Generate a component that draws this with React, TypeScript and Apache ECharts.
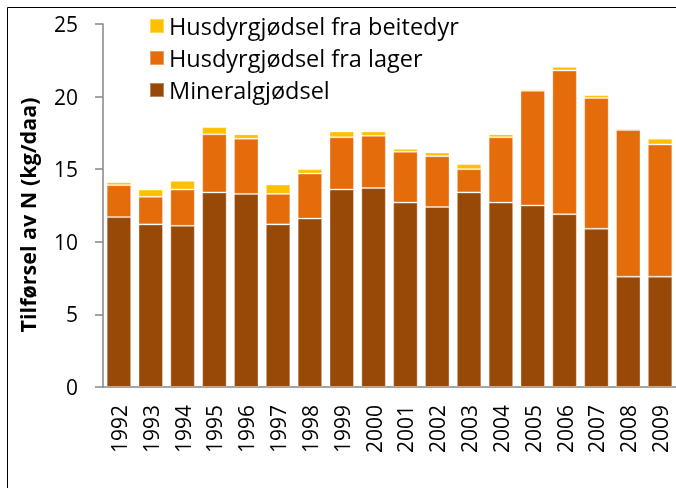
import React, { useEffect, useRef } from "react";
import * as echarts from "echarts";

const years = ["1992","1993","1994","1995","1996","1997","1998","1999","2000","2001","2002","2003","2004","2005","2006","2007","2008","2009"];
const mineral = [11.7,11.2,11.1,13.4,13.3,11.2,11.6,13.6,13.7,12.7,12.4,13.4,12.7,12.5,11.9,10.9,7.6,7.6];
const lager = [2.2,1.9,2.5,4.0,3.8,2.1,3.1,3.6,3.6,3.5,3.5,1.6,4.5,7.9,9.9,9.0,10.1,9.1];
const beite = [0.2,0.5,0.6,0.5,0.3,0.65,0.3,0.4,0.3,0.2,0.25,0.35,0.2,0.1,0.25,0.2,0.1,0.4];
const seriesNames = ["Mineralgjødsel","Husdyrgjødsel fra lager","Husdyrgjødsel fra beitedyr"];
const yTitle = "Tilførsel av N (kg/daa)";

const FONT = "'Open Sans', 'Noto Sans', sans-serif";

export default function App() {
  const ref = useRef<HTMLDivElement>(null);
  useEffect(() => {
    if (!ref.current) return;
    const chart = echarts.init(ref.current, undefined, { renderer: "svg" });
    const border = { borderColor: "rgba(255,255,255,0.35)", borderWidth: 1 };
    chart.setOption({
      animation: false,
      textStyle: { fontFamily: FONT },
      grid: { left: 96, top: 17, width: 576, height: 363, containLabel: false },
      legend: {
        orient: "vertical",
        left: 137,
        top: 2,
        itemWidth: 14,
        itemHeight: 14,
        itemGap: 8,
        data: [seriesNames[2], seriesNames[1], seriesNames[0]],
        textStyle: { fontSize: 23.5, color: "#000", fontFamily: FONT },
        icon: "rect",
      },
      xAxis: {
        type: "category",
        data: years,
        axisLine: { lineStyle: { color: "#868686", width: 1.5 } },
        axisTick: { length: 8, lineStyle: { color: "#868686", width: 1.5 } },
        axisLabel: { rotate: 90, margin: 18, fontSize: 21, color: "#000", fontFamily: FONT },
      },
      yAxis: {
        type: "value",
        min: 0,
        max: 25,
        interval: 5,
        axisLine: { show: true, lineStyle: { color: "#868686", width: 1.5 } },
        axisTick: { show: true, length: 8, lineStyle: { color: "#868686", width: 1.5 } },
        splitLine: { show: false },
        axisLabel: { margin: 25, fontSize: 21, color: "#000", fontFamily: FONT },
      },
      graphic: [
        {
          type: "rect",
          shape: { x: 0.5, y: 0.5, width: 760, height: 560 },
          style: { fill: "none", stroke: "#000", lineWidth: 1 },
          silent: true,
        },
        {
          type: "text",
          x: 20,
          y: 208,
          rotation: Math.PI / 2,
          style: {
            text: yTitle,
            fontSize: 21.5,
            fontWeight: "bold",
            fontFamily: FONT,
            fill: "#000",
            align: "center",
            verticalAlign: "middle",
          },
        },
      ],
      series: [
        { name: seriesNames[0], type: "bar", stack: "n", data: mineral, barCategoryGap: "23%", itemStyle: { color: "#984807", ...border } },
        { name: seriesNames[1], type: "bar", stack: "n", data: lager, itemStyle: { color: "#E46C0A", ...border } },
        { name: seriesNames[2], type: "bar", stack: "n", data: beite, itemStyle: { color: "#FFC000", ...border } },
      ],
    });
    return () => chart.dispose();
  }, []);
  return (
    <div style={{ position: "fixed", left: 7, top: 7, width: 669, height: 481, overflow: "hidden" }}>
      <div ref={ref} style={{ width: 669, height: 481 }} />
    </div>
  );
}
